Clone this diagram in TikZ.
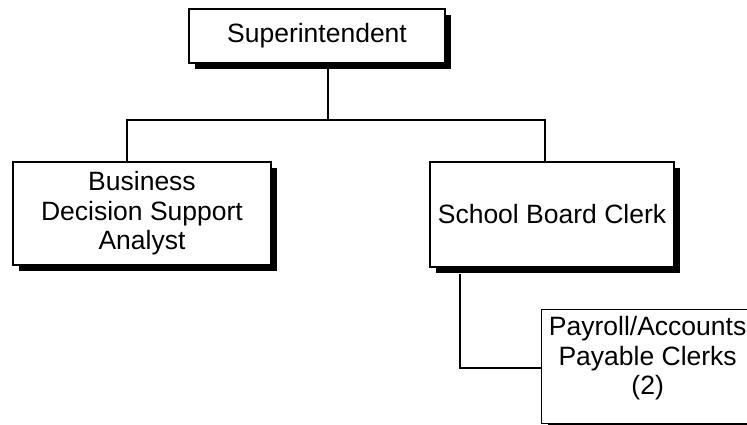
\documentclass[tikz,border=0pt]{standalone}
\usepackage{fontspec}
\setmainfont{Liberation Sans}
\usetikzlibrary{shadows}
\begin{document}
\begin{tikzpicture}[x=1pt,y=-1pt,
  orgbox/.style={draw=black, line width=1.3pt, fill=white, inner sep=0pt,
    align=center, font=\fontsize{26.5}{29.5}\selectfont,
    drop shadow={shadow xshift=6pt, shadow yshift=-6pt, fill=black, opacity=1}},
  link/.style={draw=black, line width=1.1pt}]
  \useasboundingbox[fill=white] (0,0) rectangle (747,425);
  \clip (0,0) rectangle (747,425);

  % junction points of the connectors
  \coordinate (top) at (328,120);
  \coordinate (jl) at (127,120);
  \coordinate (jr) at (545,120);
  \coordinate (k) at (460,368);

  % the boxes
  \node[orgbox, minimum width=256pt, minimum height=54pt] (sup) at (317,36)
    {\raisebox{-2pt}{Superintendent}};
  \node[orgbox, minimum width=258pt, minimum height=103pt] (bus) at (142,213.5)
    {Business\\Decision Support\\Analyst};
  \node[orgbox, minimum width=244pt, minimum height=105pt] (sch) at (552,214.5)
    {School Board Clerk};
  \node[orgbox, anchor=north west, minimum width=212pt, minimum height=114pt,
    text depth=22pt] (pay) at (541,309)
    {Payroll/Accounts\\Payable Clerks\\(2)};

  % connectors
  \draw[link] (sup.south -| top) -- (top);
  \draw[link] (bus.north -| jl) -- (jl) -- (jr) -- (sch.north -| jr);
  \draw[link] (sch.south -| k) ++(0,6) -- (k) -- (pay.west |- k);
\end{tikzpicture}
\end{document}
